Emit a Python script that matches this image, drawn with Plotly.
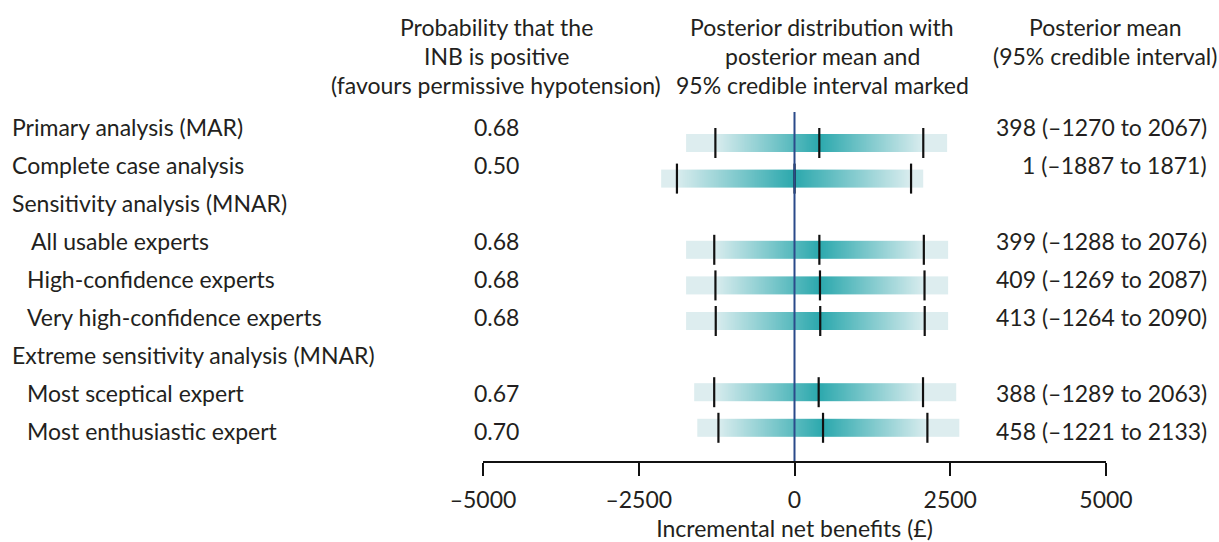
import numpy as np
import plotly.graph_objects as go

# ---------------- data ----------------
labels = ["Primary analysis (MAR)", "Complete case analysis", "Sensitivity analysis (MNAR)",
          "All usable experts", "High-confidence experts", "Very high-confidence experts",
          "Extreme sensitivity analysis (MNAR)", "Most sceptical expert", "Most enthusiastic expert"]
prob_positive = [0.68, 0.50, None, 0.68, 0.68, 0.68, None, 0.67, 0.70]
post_mean = [398, 1, None, 399, 409, 413, None, 388, 458]
ci_low = [-1270, -1887, None, -1288, -1269, -1264, None, -1289, -1221]
ci_high = [2067, 1871, None, 2076, 2087, 2090, None, 2063, 2133]
# visible extent of each shaded posterior bar
bar_low = [-1740, -2140, None, -1740, -1740, -1740, None, -1610, -1560]
bar_high = [2455, 2070, None, 2470, 2470, 2470, None, 2600, 2650]
x_ticks = [-5000, -2500, 0, 2500, 5000]
x_tick_text = ["–5000", "–2500", "0", "2500", "5000"]

# ---------------- layout constants (pixels) ----------------
W, H = 1219, 542
L, R = 483, 1106          # plot area left/right
T, B = 112, 461           # plot area top/bottom
TEXT_ROW0, TEXT_STEP = 126.5, 38.1
BAR_ROW0, BAR_STEP = 143, 35.6
indent_px = [10, 10, 10, 29, 25, 25, 10, 25, 25]

FONT = "Lato"
TXT = "#231F20"
FS = 23
LIGHT = "#DDEDEF"
DARK = "#2BA8AD"

def px_to_paper_x(px):
    return (px - L) / (R - L)

def px_to_paper_y(py):
    return (B - py) / (B - T)

# y axis in bar-row units: row i centred at BAR_ROW0 + i*BAR_STEP pixels
y_top = (T - BAR_ROW0) / BAR_STEP
y_bot = (B - BAR_ROW0) / BAR_STEP
half_bar = 9 / BAR_STEP
half_tick = 15 / BAR_STEP

fig = go.Figure()

# gradient bars (shading peaks at the posterior mean, fades to the CI bounds)
for i in range(len(labels)):
    if post_mean[i] is None:
        continue
    edges = np.linspace(bar_low[i], bar_high[i], 401)
    centres = (edges[:-1] + edges[1:]) / 2
    m = post_mean[i]
    half_w = np.where(centres < m, m - ci_low[i], ci_high[i] - m)
    shade = np.clip(1 - np.abs(centres - m) / half_w, 0, 1)
    fig.add_trace(go.Heatmap(
        x=edges, y=[i - half_bar, i + half_bar], z=[shade],
        zmin=0, zmax=1,
        colorscale=[[0, LIGHT], [0.02, "#D6EBED"], [1, DARK]],
        showscale=False, hoverinfo="skip", zsmooth=False,
    ))

# tick marks for CI bounds and mean
tx, ty = [], []
for i in range(len(labels)):
    if post_mean[i] is None:
        continue
    for v in (ci_low[i], post_mean[i], ci_high[i]):
        tx += [v, v, None]
        ty += [i - half_tick, i + half_tick, None]
fig.add_trace(go.Scatter(x=tx, y=ty, mode="lines",
                         line=dict(color="#111111", width=2.2),
                         hoverinfo="skip", showlegend=False))

# zero line
fig.add_shape(type="line", xref="x", yref="paper", x0=0, x1=0, y0=0, y1=1,
              line=dict(color="#2B4A8A", width=2), layer="above")

ann = []
def add_text(text, px, py, anchor):
    ann.append(dict(text=text, x=px_to_paper_x(px), y=px_to_paper_y(py),
                    xref="paper", yref="paper", xanchor=anchor, yanchor="middle",
                    showarrow=False, font=dict(family=FONT, size=FS, color=TXT)))

# headers
head_y = [27, 56, 85]
for j, line in enumerate(["Probability that the", "INB is positive",
                          "(favours permissive hypotension)"]):
    add_text(line, 496, head_y[j], "center")
for j, line in enumerate(["Posterior distribution with", "posterior mean and",
                          "95% credible interval marked"]):
    add_text(line, 822, head_y[j], "center")
for j, line in enumerate(["Posterior mean", "(95% credible interval)"]):
    add_text(line, 1105, head_y[j], "center")

def fmt(v):
    return f"–{abs(v)}" if v < 0 else f"{v}"

for i, lab in enumerate(labels):
    py = TEXT_ROW0 + i * TEXT_STEP
    add_text(lab, indent_px[i], py, "left")
    if prob_positive[i] is not None:
        add_text(f"{prob_positive[i]:.2f}", 496, py, "center")
        add_text(f"{post_mean[i]} ({fmt(ci_low[i])} to {fmt(ci_high[i])})", 1209, py, "right")

fig.update_layout(
    width=W, height=H,
    margin=dict(l=L, r=W - R, t=T, b=H - B, pad=0, autoexpand=False),
    paper_bgcolor="white", plot_bgcolor="white",
    font=dict(family=FONT, size=FS, color=TXT),
    showlegend=False,
    annotations=ann,
    xaxis=dict(range=[-5000, 5000], showgrid=False, zeroline=False, automargin=False,
               showline=True, linecolor="#111111", linewidth=2,
               ticks="outside", ticklen=13, tickwidth=2, tickcolor="#111111",
               tickvals=x_ticks, ticktext=x_tick_text, ticklabelstandoff=4,
               tickfont=dict(family=FONT, size=FS, color=TXT),
               title=dict(text="Incremental net benefits (£)", standoff=10,
                          font=dict(family=FONT, size=FS, color=TXT))),
    yaxis=dict(range=[y_bot, y_top], visible=False, showgrid=False, zeroline=False,
               automargin=False),
)

fig.write_html("out.html", config={"displayModeBar": False},
               post_script="document.body.style.margin='0';document.body.style.overflow='hidden';")
